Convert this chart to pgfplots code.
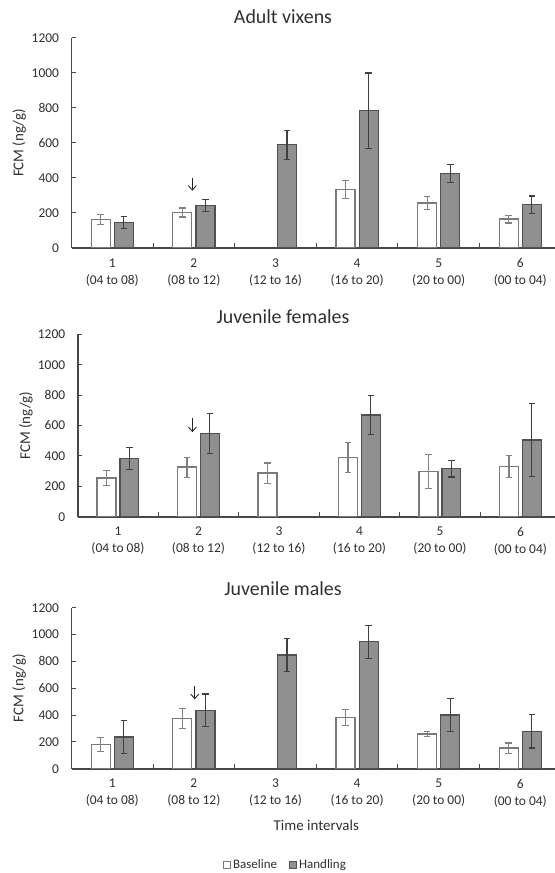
\documentclass[border=0pt]{standalone}
\usepackage{fontspec}
\setmainfont{Carlito}
\usepackage{pgfplots}
\usepackage{pgfplotstable}
\pgfplotsset{compat=1.18}
\usetikzlibrary{arrows.meta}
\definecolor{axisgray}{HTML}{474747}
\definecolor{txt}{HTML}{303030}
\definecolor{basedraw}{HTML}{7A7A7A}
\definecolor{baseerr}{HTML}{808080}
\definecolor{handfill}{HTML}{909092}
\definecolor{handdraw}{HTML}{505050}
\definecolor{handerr}{HTML}{404040}

% Adult vixens
\pgfplotstableread{
x y e
1 163 28
2 203 26
4 333 52
5 257 36
6 165 22
}\tAb
\pgfplotstableread{
x y e
1 146 36
2 242 35
3 590 83
4 785 215
5 424 52
6 247 50
}\tAh
% Juvenile females
\pgfplotstableread{
x y e
1 254 51
2 326 66
3 287 66
4 388 98
5 298 110
6 331 73
}\tFb
\pgfplotstableread{
x y e
1 384 71
2 548 132
4 670 128
5 315 54
6 504 240
}\tFh
% Juvenile males
\pgfplotstableread{
x y e
1 181 50
2 374 75
4 382 60
5 258 19
6 154 38
}\tMb
\pgfplotstableread{
x y e
1 236 124
2 435 122
3 847 124
4 947 123
5 400 122
6 278 123
}\tMh

\tikzset{arr/.style={-{Straight Barb[length=4.5bp,width=8bp]}, line width=0.9bp, draw=black!85}}

\pgfplotsset{
 fcm/.style={
  scale only axis, anchor=south west,
  xmin=0.5, xmax=6.5, ymin=0, ymax=1200,
  axis lines*=left,
  axis line style={draw=axisgray, line width=1.8bp},
  tick align=inside,
  major tick length=4bp, minor tick length=4.5bp,
  tick style={draw=axisgray, line width=1bp},
  ytick={0,200,...,1200},
  xtick={1,...,6},
  xticklabels={{1\\(04 to 08)},{2\\(08 to 12)},{3\\(12 to 16)},{4\\(16 to 20)},{5\\(20 to 00)},{6\\(00 to 04)}},
  minor xtick={1.5,2.5,3.5,4.5,5.5},
  every major x tick/.append style={draw=none},
  yticklabel style={font=\fontsize{13.5}{16}\selectfont, text=txt,
    /pgf/number format/1000 sep={}, /pgf/number format/assume math mode=true, xshift=-9bp},
  xticklabel style={font=\fontsize{13.5}{17}\selectfont, text=txt, align=center, yshift=-7bp},
  ylabel={FCM (ng/g)},
  ylabel style={font=\fontsize{15}{18}\selectfont, text=txt, at={(axis description cs:-0.107,0.5)}, anchor=center},
  title style={font=\fontsize{20}{24}\selectfont, text=txt, anchor=center},
  legend image code/.code={\draw[#1] (0bp,-3.6bp) rectangle (7.2bp,3.6bp);},
 },
 base/.style={ybar, forget plot, bar width=0.233, bar shift=0pt, fill=white, draw=basedraw, line width=1.3bp,
   error bars/y dir=both, error bars/y explicit,
   error bars/error bar style={draw=baseerr, line width=1.2bp},
   error bars/error mark options={rotate=90, draw=baseerr, line width=1.2bp, mark size=3.3bp}},
 hand/.style={ybar, forget plot, bar width=0.233, bar shift=0pt, fill=handfill, draw=handdraw, line width=1.3bp,
   error bars/y dir=both, error bars/y explicit,
   error bars/error bar style={draw=handerr, line width=1.2bp},
   error bars/error mark options={rotate=90, draw=handerr, line width=1.2bp, mark size=3.3bp}},
}

\begin{document}
\begin{tikzpicture}
\useasboundingbox (0,0) rectangle (555bp,873bp);
\fill[white] (0,0) rectangle (555bp,873bp);

% Panel 1
\begin{axis}[fcm, at={(71.5bp,625bp)}, width=489.6bp, height=210bp,
  title={Adult vixens}, title style={at={(axis description cs:0.432,1)}, yshift=15bp}]
\addplot[base] table[x expr=\thisrow{x}-0.142,y=y,y error=e] {\tAb};
\addplot[hand] table[x expr=\thisrow{x}+0.142,y=y,y error=e] {\tAh};
\draw[arr] (axis cs:1.98,398) -- (axis cs:1.98,327);
\end{axis}

% Panel 2
\begin{axis}[fcm, at={(77.7bp,356.3bp)}, width=483bp, height=182.4bp,
  title={Juvenile females}, title style={at={(axis description cs:0.425,1)}, yshift=12bp}]
\addplot[base] table[x expr=\thisrow{x}-0.142,y=y,y error=e] {\tFb};
\addplot[hand] table[x expr=\thisrow{x}+0.142,y=y,y error=e] {\tFh};
\draw[arr] (axis cs:1.925,648) -- (axis cs:1.925,556);
\end{axis}

% Panel 3
\begin{axis}[fcm, at={(71.5bp,104.3bp)}, width=489.6bp, height=161bp,
  title={Juvenile males}, title style={at={(axis description cs:0.432,1)}, yshift=13bp},
  xlabel={Time intervals},
  xlabel style={font=\fontsize{15}{18}\selectfont, text=txt, at={(axis description cs:0.5,0)}, anchor=center, yshift=-56.3bp},
  legend style={at={(axis description cs:0.437,-0.598)}, anchor=center, draw=none, fill=none,
    legend columns=2, font=\fontsize{13}{15}\selectfont, text=txt,
    /tikz/every even column/.append style={column sep=10bp}},
  legend cell align=left]
\addplot[base] table[x expr=\thisrow{x}-0.142,y=y,y error=e] {\tMb};
\addplot[hand] table[x expr=\thisrow{x}+0.142,y=y,y error=e] {\tMh};
\draw[arr] (axis cs:2.01,616) -- (axis cs:2.01,517);
\addlegendimage{fill=white, draw=basedraw, line width=0.9bp}
\addlegendentry{Baseline}
\addlegendimage{fill=handfill, draw=handdraw, line width=0.9bp}
\addlegendentry{Handling}
\end{axis}
\end{tikzpicture}
\end{document}
